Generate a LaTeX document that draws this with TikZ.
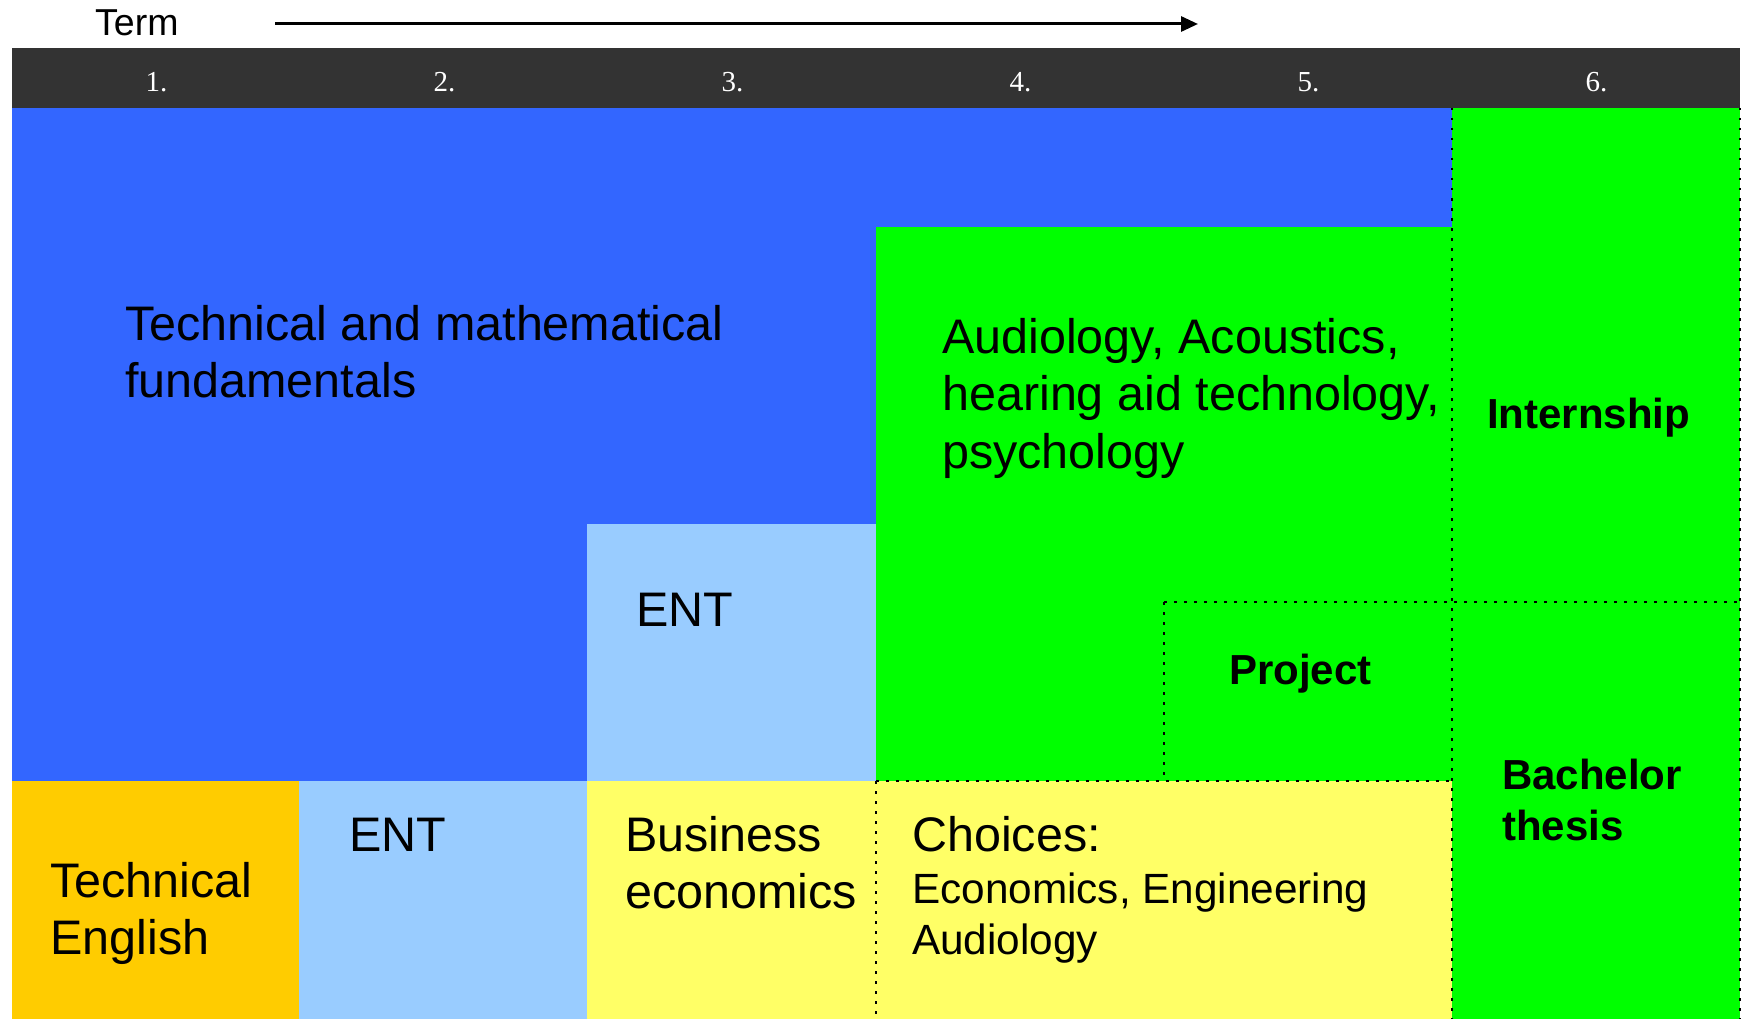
\documentclass[tikz,border=0pt]{standalone}
\usepackage{fontspec}
\setmainfont{Liberation Sans}
\newfontfamily\numfont{Liberation Serif}
\usetikzlibrary{arrows.meta}
\definecolor{tblue}{HTML}{3366FF}
\definecolor{tgreen}{HTML}{00FF00}
\definecolor{tlight}{HTML}{99CCFF}
\definecolor{tyellow}{HTML}{FFFF66}
\definecolor{torange}{HTML}{FFCC00}
\definecolor{theader}{HTML}{333333}
\begin{document}
\begin{tikzpicture}[x=1pt,y=-1pt,
  dotline/.style={line width=2.5pt, dash pattern=on 2.5pt off 7.5pt, black},
  lbl/.style={anchor=base west, inner sep=0pt, font=\fontsize{48.5}{57.5}\selectfont},
  blbl/.style={anchor=base west, inner sep=0pt, font=\bfseries\fontsize{42}{51}\selectfont},
  num/.style={anchor=base, inner sep=0pt, text=white, font=\numfont\fontsize{29}{32}\selectfont},
  termlbl/.style={anchor=base west, inner sep=0pt, font=\fontsize{37.5}{40}\selectfont}]
\useasboundingbox (0,0) rectangle (1744,1019);
% fills
\fill[tblue] (12,108) rectangle (1452,781);
\fill[tgreen] (876,227) rectangle (1452,781);
\fill[tgreen] (1452,108) rectangle (1740,1019);
\fill[tlight] (587,524) rectangle (876,781);
\fill[torange] (12,781) rectangle (299,1019);
\fill[tlight] (299,781) rectangle (587,1019);
\fill[tyellow] (587,781) rectangle (1452,1019);
\fill[theader] (12,48) rectangle (1740,108);
% dotted lines
\draw[dotline] (1452,108) -- (1452,1019);
\draw[dotline] (1740,108) -- (1740,1019);
\draw[dotline] (1164,602) -- (1740,602);
\draw[dotline] (1164,602) -- (1164,781);
\draw[dotline] (876,781) -- (1452,781);
\draw[dotline] (876,781) -- (876,1019);
% header
\node[termlbl] (term) at (95,36) {Term};
\coordinate (arrS) at (275,24);
\coordinate (arrE) at (1198,24);
\draw[line width=3pt, -{Triangle[length=17pt,width=15pt]}] (arrS) -- (arrE);
\node[num] (n1) at (156.5,92) {1.};
\node[num] (n2) at (444.5,92) {2.};
\node[num] (n3) at (732.5,92) {3.};
\node[num] (n4) at (1020.5,92) {4.};
\node[num] (n5) at (1308.5,92) {5.};
\node[num] (n6) at (1596.5,92) {6.};
% labels
\node[lbl] (ttm) at (125,340) {\vtop{\hbox{Technical and mathematical}\hbox{fundamentals}}};
\node[lbl] (taud) at (942,353) {\vtop{\hbox{Audiology, Acoustics,}\hbox{hearing aid technology,}\hbox{psychology}}};
\node[blbl] (tint) at (1487,428) {Internship};
\node[lbl] (tent1) at (636,626) {ENT};
\node[blbl] (tproj) at (1229,684) {Project};
\node[blbl] (tbach) at (1502,789) {\vtop{\hbox{Bachelor}\hbox{thesis}}};
\node[lbl] (tte) at (50,897) {\vtop{\hbox{Technical}\hbox{English}}};
\node[lbl] (tent2) at (349,851) {ENT};
\node[lbl] (tbus) at (625,851) {\vtop{\hbox{Business}\hbox{economics}}};
\node[lbl] (tcho) at (912,851) {\vtop{\baselineskip=52pt\hbox{Choices:}\hbox{\fontsize{42.3}{51}\selectfont Economics, Engineering}\baselineskip=51pt\hbox{\fontsize{42.3}{51}\selectfont Audiology}}};
\end{tikzpicture}
\end{document}
